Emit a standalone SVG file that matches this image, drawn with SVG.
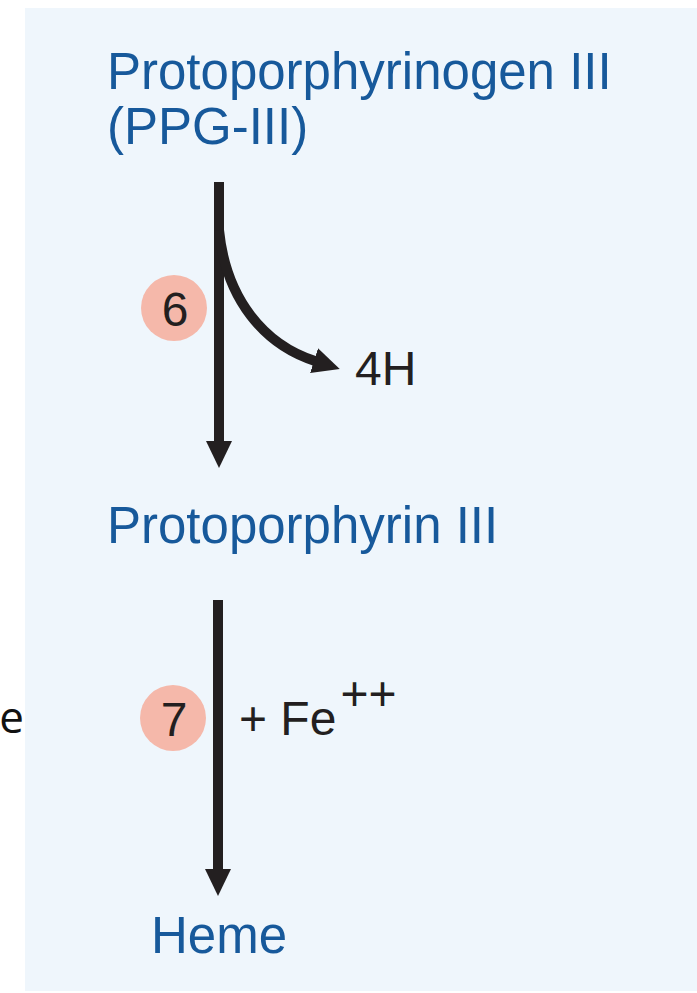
<svg xmlns="http://www.w3.org/2000/svg" width="697" height="993" viewBox="0 0 697 993">
  <style>
    .blue { font-family: "Liberation Sans", Arial, sans-serif; font-size: 51px; fill: #17599b; }
    .dark { font-family: "Liberation Sans", Arial, sans-serif; font-size: 48px; fill: #231f20; }
    .num { font-family: "Liberation Sans", Arial, sans-serif; font-size: 48px; fill: #231f20; text-anchor: middle; }
    .badge { fill: #f5b8aa; }
    .conn { stroke: #231f20; stroke-width: 10; fill: none; }
  </style>
  <defs>
    <marker id="head" markerUnits="userSpaceOnUse" markerWidth="28" markerHeight="26" viewBox="0 0 28 26" refX="1" refY="13" orient="auto">
      <path d="M0,0 L27,13 L0,26 z" fill="#231f20"/>
    </marker>
  </defs>
  <rect x="0" y="0" width="697" height="993" fill="#ffffff"/>
  <rect id="panel" x="25" y="8" width="672" height="983" fill="#eff6fc"/>

  <g id="connectors">
    <line class="conn" x1="219" y1="182" x2="219" y2="442" marker-end="url(#head)"/>
    <path class="conn" d="M219,230 C226,300 265,345 315,361" marker-end="url(#head)"/>
    <line class="conn" x1="218" y1="600" x2="218" y2="870" marker-end="url(#head)"/>
  </g>

  <g id="ppg3">
    <text class="blue" x="107" y="89">Protoporphyrinogen III</text>
    <text class="blue" x="107" y="144">(PPG-III)</text>
  </g>
  <g id="step6">
    <circle class="badge" cx="174" cy="308" r="33"/>
    <text class="num" x="175" y="326">6</text>
  </g>
  <g id="h4">
    <text class="dark" x="355" y="385">4H</text>
  </g>
  <g id="pp3">
    <text class="blue" x="107" y="543">Protoporphyrin III</text>
  </g>
  <g id="step7">
    <circle class="badge" cx="173" cy="718" r="33"/>
    <text class="num" x="174" y="736">7</text>
  </g>
  <g id="fe">
    <text class="dark" x="239" y="735">+ Fe<tspan dx="4" dy="-25">++</tspan></text>
  </g>
  <g id="heme">
    <text class="blue" x="151" y="953">Heme</text>
  </g>
  <g id="edge-e">
    <text x="24" y="733" text-anchor="end" font-family="'Open Sans', sans-serif" font-size="44" fill="#111111">e</text>
  </g>
</svg>
